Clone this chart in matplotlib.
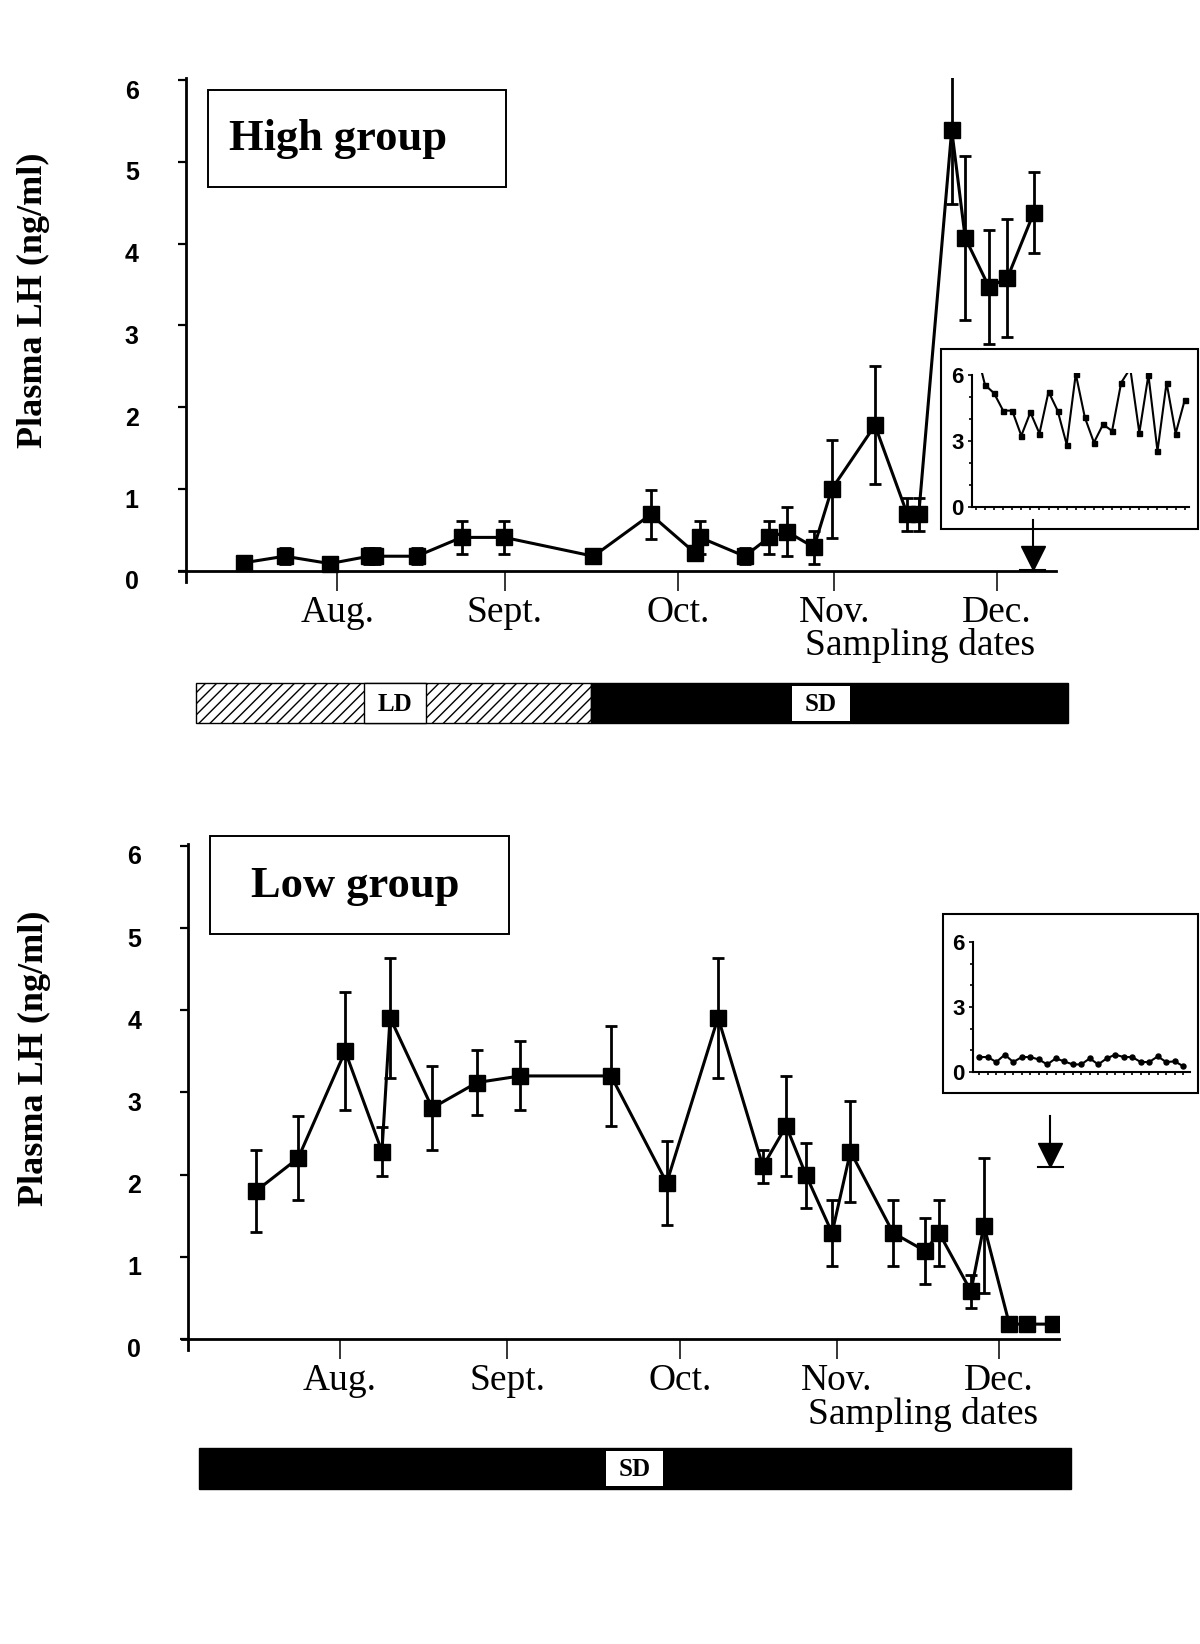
import matplotlib
matplotlib.use('Agg')
import matplotlib.pyplot as plt
import matplotlib.transforms as mtransforms
from matplotlib.patches import Rectangle
import numpy as np

# Sampling dates are given as days from July 1
month_days = [31, 62, 94, 123, 153]
month_labels = ['Aug.', 'Sept.', 'Oct.', 'Nov.', 'Dec.']

# High group: plasma LH mean and SEM (ng/ml)
high_days = [13.7, 21.3, 29.6, 36.9, 38.0, 45.7, 54.0, 61.9, 78.4, 89.0, 97.2, 98.1, 106.4,
             110.9, 114.2, 119.2, 122.5, 130.5, 136.5, 138.6, 144.7, 147.2, 151.6, 155.0, 159.9]
high_lh = [0.10, 0.18, 0.09, 0.18, 0.18, 0.18, 0.41, 0.41, 0.18, 0.69, 0.22, 0.41, 0.18,
           0.41, 0.48, 0.29, 1.00, 1.78, 0.69, 0.69, 5.39, 4.07, 3.47, 3.58, 4.38]
high_sem = [0.0, 0.10, 0.0, 0.10, 0.10, 0.10, 0.20, 0.20, 0.0, 0.30, 0.0, 0.20, 0.10,
            0.20, 0.30, 0.20, 0.60, 0.72, 0.20, 0.20, 0.90, 1.00, 0.70, 0.72, 0.50]

# Low group
low_days = [15.5, 23.3, 32.0, 38.8, 40.3, 48.1, 56.4, 64.4, 81.2, 91.5, 101.0, 109.3,
            113.6, 117.3, 122.1, 125.5, 133.4, 139.3, 141.9, 147.8, 150.2, 154.9, 158.1, 163.0]
low_lh = [1.80, 2.20, 3.50, 2.28, 3.91, 2.81, 3.12, 3.20, 3.20, 1.90, 3.91, 2.10,
          2.59, 1.99, 1.29, 2.28, 1.29, 1.07, 1.29, 0.58, 1.38, 0.18, 0.18, 0.18]
low_sem = [0.50, 0.51, 0.72, 0.30, 0.73, 0.51, 0.40, 0.42, 0.61, 0.51, 0.73, 0.20,
           0.61, 0.40, 0.40, 0.61, 0.40, 0.40, 0.40, 0.20, 0.82, 0.08, 0.08, 0.05]

# Pulsatile profiles (insets), one value per sample
high_pulse = [7.2, 5.55, 5.17, 4.38, 4.38, 3.24, 4.30, 3.34, 5.24, 4.38, 2.84, 6.05,
              4.07, 2.93, 3.75, 3.46, 5.65, 6.3, 3.37, 6.0, 2.54, 5.65, 3.34, 4.86]
low_pulse = [0.69, 0.69, 0.46, 0.80, 0.46, 0.69, 0.69, 0.58, 0.35, 0.63, 0.49, 0.35, 0.35,
             0.63, 0.35, 0.63, 0.80, 0.69, 0.69, 0.46, 0.46, 0.72, 0.46, 0.49, 0.27]

# Arrow marking the day of the pulse profile: (day, top, tip)
high_arrow = (159.7, 0.62, 0.01)
low_arrow = (162.5, 2.71, 2.09)

# Photoperiod schedule: (regime, start day, end day) and label boxes
high_photo = [('LD', 4.8, 78.0), ('SD', 78.0, 166.2)]
high_photo_labels = [('LD', 36.0, 47.4), ('SD', 115.1, 125.8)]
low_photo = [('SD', 4.9, 166.3)]
low_photo_labels = [('SD', 80.2, 90.9)]

plt.rcParams['hatch.linewidth'] = 1.0
serif = 'Liberation Serif'
sans = 'Liberation Sans'

fig = plt.figure(figsize=(12, 16.44), dpi=100)


def draw_panel(rect, days, lh, sem, arrow, title, title_box, title_xy):
    ax = fig.add_axes(rect)
    ax.errorbar(days, lh, yerr=sem, color='k', lw=2.2, marker='s', ms=11.5,
                elinewidth=2.0, capsize=4, capthick=2.0, zorder=3)
    ax.set_xlim(1.8, 164)
    ax.set_ylim(-0.135, 6.02)
    for s in ['top', 'right']:
        ax.spines[s].set_visible(False)
    ax.spines['bottom'].set_position(('data', 0))
    ax.spines['left'].set_position(('data', 3))
    ax.spines['bottom'].set_linewidth(2)
    ax.spines['left'].set_linewidth(2)

    ax.set_yticks(range(7))
    ax.tick_params(axis='y', direction='out', length=6, width=1.6, pad=28)
    offset = mtransforms.ScaledTranslation(0, -0.09, fig.dpi_scale_trans)
    for lab in ax.get_yticklabels():
        lab.set_fontfamily(sans)
        lab.set_fontweight('bold')
        lab.set_fontsize(18)
        lab.set_transform(lab.get_transform() + offset)

    ax.set_xticks(month_days)
    ax.set_xticklabels(month_labels, fontfamily=serif, fontsize=27)
    ax.tick_params(axis='x', direction='out', length=14.5, width=1.1, pad=3)

    # arrow pointing to the pulse sampling day
    d, top, tip = arrow
    mid = top - (top - tip) * 0.53
    ax.plot([d, d], [top, mid], color='k', lw=1.5, clip_on=False)
    ax.plot(d, (mid + tip) / 2, marker='v', ms=17, color='k', clip_on=False)
    ax.plot([d - 2.3, d + 2.3], [tip, tip], color='k', lw=1.5, clip_on=False)

    fig.add_artist(Rectangle(title_box[:2], title_box[2], title_box[3], fill=False,
                             lw=1.4, ec='k', transform=fig.transFigure))
    fig.text(title_xy[0], title_xy[1], title, fontfamily=serif, fontweight='bold',
             fontsize=32, ha='left', va='baseline')
    return ax


def draw_inset(rect, frame, values, marker, xlim):
    fig.add_artist(Rectangle(frame[:2], frame[2], frame[3], fill=False, lw=1.5,
                             ec='k', transform=fig.transFigure))
    axi = fig.add_axes(rect)
    idx = np.arange(len(values))
    axi.plot(idx, values, color='k', lw=1.5, marker=marker, ms=3.6)
    axi.set_xlim(*xlim)
    axi.set_ylim(0, 6.1)
    axi.patch.set_visible(False)
    for s in ['top', 'right']:
        axi.spines[s].set_visible(False)
    axi.spines['left'].set_bounds(0, 6)
    axi.spines['left'].set_linewidth(1.5)
    axi.spines['bottom'].set_linewidth(1.5)
    axi.set_yticks([0, 3, 6])
    axi.set_yticks([1, 2, 4, 5], minor=True)
    axi.set_yticklabels(['0', '3', '6'], fontfamily=sans, fontweight='bold', fontsize=16)
    axi.set_xticks(idx)
    axi.set_xticklabels([])
    axi.tick_params(axis='y', which='major', length=3, width=1.2, pad=3)
    axi.tick_params(axis='y', which='minor', length=2.5, width=1.2)
    axi.tick_params(axis='x', length=2.5, width=1.2)


def draw_photoperiod(rect, segments, labels):
    axb = fig.add_axes(rect)
    axb.set_xlim(1.8, 164)
    axb.set_ylim(0, 1)
    axb.axis('off')
    for regime, start, end in segments:
        if regime == 'LD':
            axb.add_patch(Rectangle((start, 0), end - start, 1, fc='white', ec='k',
                                    hatch='///', lw=1.0, clip_on=False))
        else:
            axb.add_patch(Rectangle((start, 0), end - start, 1, fc='k', ec='k',
                                    lw=1.0, clip_on=False))
    for regime, start, end in labels:
        if regime == 'LD':
            axb.add_patch(Rectangle((start, 0), end - start, 1, fc='white', ec='k',
                                    lw=1.0, clip_on=False, zorder=3))
        else:
            axb.add_patch(Rectangle((start, 0.07), end - start, 0.86, fc='white',
                                    ec='none', clip_on=False, zorder=3))
        axb.text((start + end) / 2, 0.48, regime, fontfamily=serif, fontweight='bold',
                 fontsize=18, ha='center', va='center', zorder=4)


# High group
draw_panel([0.14958, 0.64599, 0.73042, 0.30633], high_days, high_lh, high_sem,
           high_arrow, 'High group', [0.17333, 0.88625, 0.24833, 0.059], (0.1908, 0.9088))
draw_inset([0.81, 0.69161, 0.18083, 0.08163], [0.78417, 0.67822, 0.21417, 0.10949],
           high_pulse, 's', (-0.43, 23.47))
fig.text(0.7667, 0.6016, 'Sampling dates', fontfamily=serif, fontsize=27,
         ha='center', va='baseline')
fig.text(0.0275, 0.8175, 'Plasma LH (ng/ml)', fontfamily=serif, fontweight='bold',
         fontsize=26, rotation=90, ha='center', va='center')
draw_photoperiod([0.14958, 0.56, 0.73042, 0.02433], high_photo, high_photo_labels)

# Low group
draw_panel([0.15167, 0.17883, 0.73042, 0.30766], low_days, low_lh, low_sem,
           low_arrow, 'Low group', [0.175, 0.43187, 0.24917, 0.05961], (0.2092, 0.4544))
draw_inset([0.81083, 0.34793, 0.18083, 0.08035], [0.78583, 0.33516, 0.2125, 0.10888],
           low_pulse, 'o', (-0.74, 24.8))
fig.text(0.769, 0.1338, 'Sampling dates', fontfamily=serif, fontsize=27,
         ha='center', va='baseline')
fig.text(0.0288, 0.3564, 'Plasma LH (ng/ml)', fontfamily=serif, fontweight='bold',
         fontsize=26, rotation=90, ha='center', va='center')
draw_photoperiod([0.15167, 0.09428, 0.73042, 0.02494], low_photo, low_photo_labels)

fig.savefig('out.png', dpi=100)
